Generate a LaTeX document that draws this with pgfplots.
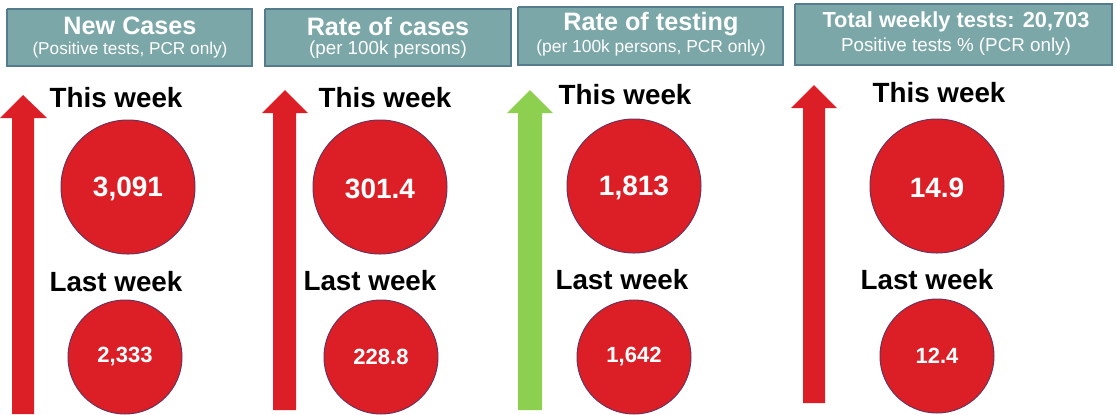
\documentclass[border=0pt]{standalone}
\usepackage{pgfplots}
\pgfplotsset{compat=1.18}
\usepackage{fontspec}
\setmainfont{Liberation Sans}
\definecolor{boxfill}{RGB}{123,167,168}
\definecolor{boxline}{RGB}{85,124,140}
\definecolor{cred}{RGB}{220,31,38}
\definecolor{cgreen}{RGB}{141,207,79}
\definecolor{cborder}{RGB}{110,50,90}
\begin{document}
\begin{tikzpicture}
\begin{axis}[
  width=558pt, height=207pt, scale only axis,
  xmin=0, xmax=1116, ymin=0, ymax=414, y dir=reverse,
  hide axis, clip=false,
]
% bounding frame
\addplot[draw=none] coordinates {(0,0) (1116,414)};
% header boxes
\addplot[fill=boxfill, draw=boxline, line width=0.7pt] coordinates {(7,9) (252,9) (252,66) (7,66) (7,9)};
\addplot[fill=boxfill, draw=boxline, line width=0.7pt] coordinates {(265,9) (511,9) (511,66) (265,66) (265,9)};
\addplot[fill=boxfill, draw=boxline, line width=0.7pt] coordinates {(518,7) (783,7) (783,65) (518,65) (518,7)};
\addplot[fill=boxfill, draw=boxline, line width=0.7pt] coordinates {(795,4) (1112,4) (1112,65) (795,65) (795,4)};
% arrows
\addplot[fill=cred, draw=none] coordinates {(12,414) (12,118) (0,118) (23,95) (47,118) (34,118) (34,414)};
\addplot[fill=cred, draw=none] coordinates {(273,410) (273,113) (262,113) (285,90) (308,113) (296,113) (296,410)};
\addplot[fill=cgreen, draw=none] coordinates {(518,410) (518,113) (507,113) (530,90) (553,113) (542,113) (542,410)};
\addplot[fill=cred, draw=none] coordinates {(803,403) (803,108) (791,108) (814,85) (837,108) (825,108) (825,403)};
% this week circles
\addplot[only marks, mark=*, mark size=33.5pt,
  mark options={fill=cred, draw=cborder, line width=0.5pt},
  point meta=explicit symbolic, nodes near coords, nodes near coords align=center,
  every node near coord/.append style={text=white, yshift=-1pt, font=\fontsize{14}{16}\selectfont\bfseries}]
  coordinates {(128,187) [{3,091}] (380,187) [{301.4}] (634,186) [{1,813}] (937,186) [{14.9}]};
% last week circles
\addplot[only marks, mark=*, mark size=28.5pt,
  mark options={fill=cred, draw=cborder, line width=0.5pt},
  point meta=explicit symbolic, nodes near coords, nodes near coords align=center,
  every node near coord/.append style={text=white, font=\fontsize{11}{13}\selectfont\bfseries}]
  coordinates {(125,357) [{2,333}] (381,357) [{228.8}] (634,357) [{1,642}] (937,356) [{12.4}]};
% header texts
\node[text=white, font=\fontsize{12.6}{14}\selectfont\bfseries] at (axis cs:130,26) {New Cases};
\node[text=white, font=\fontsize{8.6}{10}\selectfont] at (axis cs:130,50) {(Positive tests, PCR only)};
\node[text=white, font=\fontsize{12.6}{14}\selectfont\bfseries] at (axis cs:388,26) {Rate of cases};
\node[text=white, font=\fontsize{9.4}{11}\selectfont] at (axis cs:388,50) {(per 100k persons)};
\node[text=white, font=\fontsize{12.6}{14}\selectfont\bfseries] at (axis cs:651,24) {Rate of testing};
\node[text=white, font=\fontsize{8.7}{10}\selectfont] at (axis cs:651,48) {(per 100k persons, PCR only)};
\node[text=white, font=\fontsize{10.9}{13}\selectfont\bfseries] at (axis cs:956,22) {Total weekly tests: 20,703};
\node[text=white, font=\fontsize{9.4}{11}\selectfont] at (axis cs:956,47) {Positive tests \% (PCR only)};
% week labels
\node[font=\fontsize{13.9}{16}\selectfont\bfseries] at (axis cs:116,98) {This week};
\node[font=\fontsize{13.9}{16}\selectfont\bfseries] at (axis cs:385,98) {This week};
\node[font=\fontsize{13.9}{16}\selectfont\bfseries] at (axis cs:625,95) {This week};
\node[font=\fontsize{13.9}{16}\selectfont\bfseries] at (axis cs:939,93) {This week};
\node[font=\fontsize{13.9}{16}\selectfont\bfseries] at (axis cs:116,282) {Last week};
\node[font=\fontsize{13.9}{16}\selectfont\bfseries] at (axis cs:370,281) {Last week};
\node[font=\fontsize{13.9}{16}\selectfont\bfseries] at (axis cs:622,280) {Last week};
\node[font=\fontsize{13.9}{16}\selectfont\bfseries] at (axis cs:927,280) {Last week};
\end{axis}
\end{tikzpicture}
\end{document}
